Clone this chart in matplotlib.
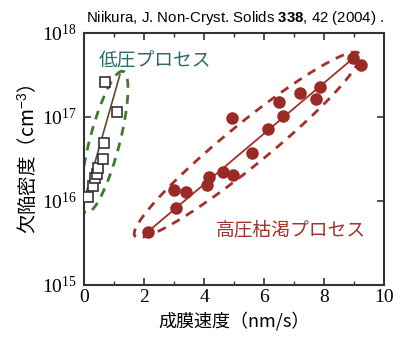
import numpy as np
import matplotlib
matplotlib.use("Agg")
import matplotlib.pyplot as plt
from matplotlib.ticker import MultipleLocator, FixedLocator, LogFormatterMathtext, NullLocator

plt.rcParams["mathtext.fontset"] = "custom"
plt.rcParams["mathtext.rm"] = "Liberation Serif"
plt.rcParams["mathtext.it"] = "Liberation Serif:italic"
plt.rcParams["mathtext.bf"] = "Liberation Sans:bold"
plt.rcParams["mathtext.sf"] = "Liberation Sans"

CJK = ["Noto Sans CJK JP", "DejaVu Sans"]

# Low-pressure process (open squares)
low_x = [0.13, 0.30, 0.37, 0.43, 0.47, 0.63, 0.67, 0.70, 1.10]
low_y = [1.1e16, 1.5e16, 1.9e16, 2.1e16, 2.5e16, 3.2e16, 4.9e16, 2.6e17, 1.15e17]
low_fit_x = [0.0, 1.2]
low_fit_y = [1.0e16, 3.2e17]
low_ell_ends = [(0.07, 7.2e15), (1.30, 3.5e17)]
low_ell_half_width = 15  # px

# High-pressure depletion process (filled circles)
high_x = [2.13, 3.00, 3.05, 3.40, 4.10, 4.17, 4.63, 4.97, 4.93,
          5.60, 6.13, 6.50, 6.63, 7.20, 7.73, 7.87, 8.97, 9.23]
high_y = [4.3e15, 1.35e16, 8.3e15, 1.29e16, 1.55e16, 1.95e16, 2.24e16, 2.04e16, 9.8e16,
          3.7e16, 7.2e16, 1.51e17, 1.02e17, 1.95e17, 1.62e17, 2.29e17, 5.0e17, 4.1e17]
high_fit_x = [2.13, 8.97]
high_fit_y = [4.3e15, 5.0e17]
high_ell_ends = [(1.70, 3.8e15), (9.17, 5.7e17)]
high_ell_half_width = 21  # px

x_ticks = [0, 2, 4, 6, 8, 10]
y_ticks = [1e15, 1e16, 1e17, 1e18]

green_dash = "#3f7a2c"
green_line = "#5a4a30"
red = "#a3302a"


def draw_ellipse(ax, ends, half_width, color):
    # build the ellipse in display space so it looks like the hand-drawn one
    p0 = ax.transData.transform(ends[0])
    p1 = ax.transData.transform(ends[1])
    c = (p0 + p1) / 2
    u = (p1 - p0) / 2
    n = np.array([-u[1], u[0]]) / np.hypot(*u) * half_width
    t = np.linspace(0, 2 * np.pi, 300)
    pts = c + np.outer(np.cos(t), u) + np.outer(np.sin(t), n)
    data = ax.transData.inverted().transform(pts)
    ax.plot(data[:, 0], data[:, 1], ls=(0, (3.2, 2.6)), lw=2.0, color=color, zorder=2)


fig = plt.figure(figsize=(3.96, 3.40), dpi=100)
ax = fig.add_axes([0.212, 0.162, 0.758, 0.741])
ax.set_yscale("log")
ax.set_xlim(0, 10)
ax.set_ylim(1e15, 1e18)

ax.plot(low_fit_x, low_fit_y, color=green_line, lw=1.2, zorder=3)
ax.plot(low_x, low_y, ls="none", marker="s", ms=6.5, mfc="white", mec="#333333", mew=1.2, zorder=4)
draw_ellipse(ax, low_ell_ends, low_ell_half_width, green_dash)

ax.plot(high_fit_x, high_fit_y, color=red, lw=1.3, zorder=3)
ax.plot(high_x, high_y, ls="none", marker="o", ms=8, color="#9a2a25", zorder=4)
draw_ellipse(ax, high_ell_ends, high_ell_half_width, red)

ax.text(0.5, 4.6e17, "低圧プロセス", family=CJK, fontsize=13.5, color="#2a6a68", va="center")
ax.text(4.4, 4.5e15, "高圧枯渇プロセス", family=CJK, fontsize=13.5, color="#a0322a", va="center")

ax.xaxis.set_major_locator(FixedLocator(x_ticks))
ax.xaxis.set_minor_locator(MultipleLocator(1))
ax.yaxis.set_major_locator(FixedLocator(y_ticks))
ax.yaxis.set_major_formatter(LogFormatterMathtext())
ax.yaxis.set_minor_locator(NullLocator())
ax.tick_params(which="both", direction="in", top=True, right=True, color="#333333",
               labelsize=14, labelfontfamily="Liberation Serif")
ax.tick_params(which="major", length=5, width=1.2)
ax.tick_params(which="minor", length=3, width=1.0)
ax.tick_params(axis="x", pad=3)
ax.tick_params(axis="y", pad=5)
for s in ax.spines.values():
    s.set_color("#333333")
    s.set_linewidth(1.5)

ax.set_xlabel("成膜速度（nm/s）", family=CJK, fontsize=13, labelpad=4)
ax.set_ylabel("欠陥密度（cm$^{\\mathsf{-3}}$）", family=CJK, fontsize=14, labelpad=2)

fig.text(0.218, 0.948, "Niikura, J. Non-Cryst. Solids $\\mathbf{338}$, 42 (2004) .",
         family="Liberation Sans", fontsize=10.8, va="center")

fig.savefig("out.png", dpi=100)
plt.close(fig)
